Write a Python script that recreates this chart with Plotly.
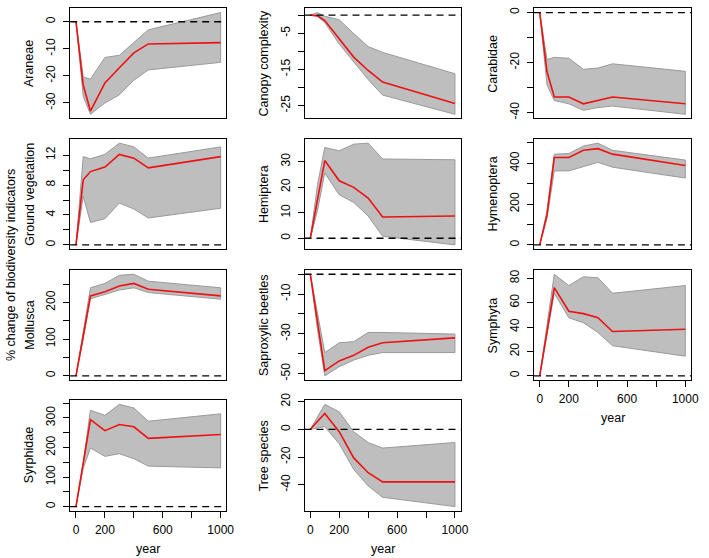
import plotly.graph_objects as go

W, H = 709, 558

years = [0, 50, 100, 200, 300, 400, 500, 1000]

panel_names = ["Araneae", "Canopy complexity", "Carabidae",
               "Ground vegetation", "Hemiptera", "Hymenoptera",
               "Mollusca", "Saproxylic beetles", "Symphyta",
               "Syrphidae", "Tree species"]

araneae_mean = [0, -23.4, -33, -22.6, -17, -11.5, -8.2, -7.7]
araneae_upper = [0, -20.4, -21.2, -13.2, -12.4, -7.7, -3, 3.4]
araneae_lower = [0, -27.6, -34.2, -30, -27, -21.6, -17.8, -15]

canopy_mean = [0, -0.2, -1.5, -6.6, -11.6, -15.3, -18.5, -24.4]
canopy_upper = [0, 0.7, -0.3, -1.3, -5.1, -8.7, -10.3, -16.2]
canopy_lower = [0, -0.4, -2.1, -8, -13, -17.8, -22.1, -27.4]

carabidae_mean = [0, -23.7, -33.8, -33.8, -36.5, -35.2, -33.8, -36.5]
carabidae_upper = [0, -18.8, -17.9, -18.3, -22.7, -22.2, -20.5, -23.5]
carabidae_lower = [0, -28.9, -35.2, -36.5, -39.1, -38, -37.4, -40.7]

ground_mean = [0, 8.7, 9.8, 10.4, 12.1, 11.6, 10.3, 11.8]
ground_upper = [0, 11.8, 11.5, 12.1, 13.6, 13.1, 11.6, 13.1]
ground_lower = [0, 6.5, 3.0, 3.5, 5.6, 4.8, 3.6, 4.9]

hemiptera_mean = [0, 15.3, 30.4, 22.5, 19.9, 15.7, 8.3, 8.7]
hemiptera_upper = [0, 21, 35.5, 34.2, 36.8, 37.2, 31, 30.7]
hemiptera_lower = [0, 11, 25.5, 17, 14, 8.7, 0.8, -2.6]

hymenoptera_mean = [0, 147, 429, 429, 464, 472, 445, 389]
hymenoptera_upper = [0, 168, 445, 448, 485, 499, 464, 416]
hymenoptera_lower = [0, 131, 363, 363, 384, 405, 381, 328]

mollusca_mean = [0, 110, 218, 229, 245, 252, 236, 218]
mollusca_upper = [0, 125, 240, 252, 274, 277, 258, 240]
mollusca_lower = [0, 100, 210, 222, 234, 240, 227, 209]

sapro_mean = [0, -24, -48.5, -43.6, -40.8, -36.7, -34.5, -32]
sapro_upper = [0, -20, -39.4, -34.5, -33.9, -29.3, -29.3, -30.1]
sapro_lower = [0, -28, -51.1, -46.5, -43.2, -40.8, -39.4, -39.4]

symphyta_mean = [0, 36, 72.3, 53, 51, 47.6, 36.3, 38.2]
symphyta_upper = [0, 42, 83.3, 74, 81.2, 80.4, 67.7, 74]
symphyta_lower = [0, 33, 67.7, 47.6, 43.5, 35.5, 24.7, 16.1]

syrphidae_mean = [0, 140, 294, 257, 278, 270, 231, 244]
syrphidae_upper = [0, 150, 326, 309, 346, 334, 289, 314]
syrphidae_lower = [0, 130, 198, 170, 179, 162, 137, 131]

tree_mean = [0, 5.7, 11.4, -1.7, -20.6, -31.3, -37.9, -37.9]
tree_upper = [0, 9, 18, 12.6, -1.7, -9.5, -13.5, -9.5]
tree_lower = [0, 1, 1.9, -10.4, -28.9, -40.8, -49, -55.7]

# y tick values and tick labels per panel ("" = tick without label)
yticks = [
    ([-30, -20, -10, 0], ["-30", "-20", "-10", "0"]),
    ([-25, -20, -15, -10, -5, 0], ["-25", "", "-15", "", "-5", ""]),
    ([-40, -30, -20, -10, 0], ["-40", "", "-20", "", "0"]),
    ([0, 2, 4, 6, 8, 10, 12], ["0", "", "4", "", "8", "", "12"]),
    ([0, 10, 20, 30], ["0", "10", "20", "30"]),
    ([0, 100, 200, 300, 400, 500], ["0", "", "200", "", "400", ""]),
    ([0, 50, 100, 150, 200, 250], ["0", "", "100", "", "200", ""]),
    ([-50, -40, -30, -20, -10, 0], ["-50", "", "-30", "", "-10", ""]),
    ([0, 20, 40, 60, 80], ["0", "20", "40", "60", "80"]),
    ([0, 50, 100, 150, 200, 250, 300, 350], ["0", "", "100", "", "200", "", "300", ""]),
    ([-40, -20, 0, 20], ["-40", "-20", "0", "20"]),
]
xtick_vals = [0, 200, 400, 600, 800, 1000]
xtick_text = ["0", "200", "", "600", "", "1000"]
x_title = "year"
y_title = "% change of biodiversity indicators"

series = [
    (araneae_mean, araneae_upper, araneae_lower),
    (canopy_mean, canopy_upper, canopy_lower),
    (carabidae_mean, carabidae_upper, carabidae_lower),
    (ground_mean, ground_upper, ground_lower),
    (hemiptera_mean, hemiptera_upper, hemiptera_lower),
    (hymenoptera_mean, hymenoptera_upper, hymenoptera_lower),
    (mollusca_mean, mollusca_upper, mollusca_lower),
    (sapro_mean, sapro_upper, sapro_lower),
    (symphyta_mean, symphyta_upper, symphyta_lower),
    (syrphidae_mean, syrphidae_upper, syrphidae_lower),
    (tree_mean, tree_upper, tree_lower),
]

# layout geometry in pixels
col_px = [(71, 229), (308, 466), (540, 699)]
row_px = [(1.5, 113), (134, 245.5), (267, 378.3), (399, 511)]
bottom_panels = {8, 9, 10}

FONT = "Liberation Sans, Arial, Helvetica, sans-serif"


def ext(lo, hi):
    d = (hi - lo) * 0.04
    return [lo - d, hi + d]


fig = go.Figure()
layout = dict(
    width=W, height=H, autosize=False,
    margin=dict(l=0, r=0, t=0, b=0),
    paper_bgcolor="white", plot_bgcolor="white",
    showlegend=False,
    font=dict(family=FONT, size=12, color="black"),
)
annotations = []
shapes = []

for i, (name, (m, up, lo)) in enumerate(zip(panel_names, series)):
    r, c = divmod(i, 3)
    k = "" if i == 0 else str(i + 1)
    xa, ya = "x" + k, "y" + k
    x0p, x1p = col_px[c]
    t, b = row_px[r]
    fig.add_trace(go.Scatter(
        x=years + years[::-1], y=up + lo[::-1], xaxis=xa, yaxis=ya,
        mode="lines", fill="toself", fillcolor="#bebebe",
        line=dict(color="#9a9a9a", width=1), hoverinfo="skip"))
    fig.add_trace(go.Scatter(
        x=years, y=m, xaxis=xa, yaxis=ya, mode="lines",
        line=dict(color="#ee1111", width=1.6)))
    allv = up + lo + m
    showx = i in bottom_panels
    layout["xaxis" + k] = dict(
        domain=[x0p / W, x1p / W], anchor=ya,
        range=ext(min(years), max(years)),
        showline=True, mirror=True, linecolor="black", linewidth=1,
        showgrid=False, zeroline=False,
        ticks="outside" if showx else "", ticklen=6, tickcolor="black",
        tickvals=xtick_vals, ticktext=xtick_text,
        showticklabels=showx, ticklabelstandoff=2,
        tickfont=dict(family=FONT, size=12, color="black"),
    )
    tv, tt = yticks[i]
    layout["yaxis" + k] = dict(
        domain=[1 - b / H, 1 - t / H], anchor=xa,
        range=ext(min(allv), max(allv)),
        showline=True, mirror=True, linecolor="black", linewidth=1,
        showgrid=False, zeroline=False,
        ticks="outside", ticklen=6, tickcolor="black",
        tickvals=tv, ticktext=tt, tickangle=-90, ticklabelstandoff=3,
        tickfont=dict(family=FONT, size=12, color="black"),
    )
    shapes.append(dict(
        type="line", xref=xa + " domain", yref=ya, x0=0, x1=1, y0=0, y1=0,
        line=dict(color="black", width=1.3, dash="7px,5px"), layer="above"))
    annotations.append(dict(
        text=name, xref="paper", yref="paper",
        x=(x0p - 41) / W, y=1 - (t + b) / 2 / H,
        textangle=-90, showarrow=False, xanchor="center", yanchor="middle",
        font=dict(family=FONT, size=12.5, color="black")))
    if showx:
        annotations.append(dict(
            text=x_title, xref="paper", yref="paper",
            x=(x0p + x1p) / 2 / W, y=1 - (b + 39) / H,
            showarrow=False, xanchor="center", yanchor="middle",
            font=dict(family=FONT, size=12.5, color="black")))

annotations.append(dict(
    text=y_title, xref="paper", yref="paper", x=11 / W, y=1 - 262 / H,
    textangle=-90, showarrow=False, xanchor="center", yanchor="middle",
    font=dict(family=FONT, size=12.5, color="black")))

layout["annotations"] = annotations
layout["shapes"] = shapes
fig.update_layout(**layout)
fig.write_html(
    "out.html",
    config={"displayModeBar": False},
    post_script="document.body.style.margin='0px';document.body.style.padding='0px';",
)
